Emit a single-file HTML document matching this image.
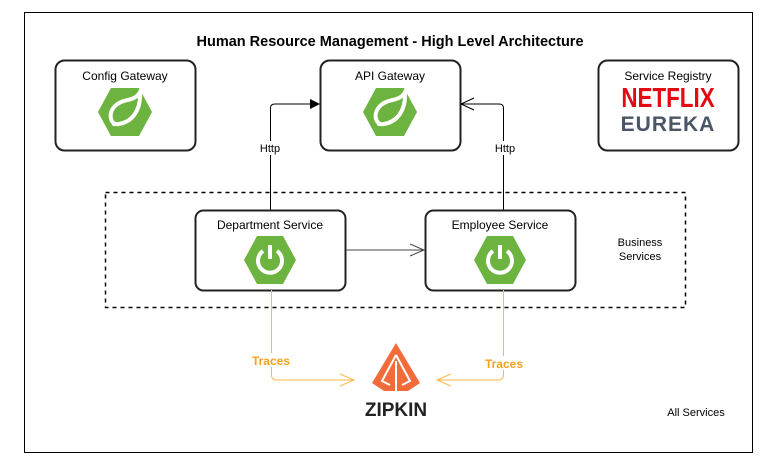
<!DOCTYPE html>
<html><head><meta charset="utf-8"><style>
html,body{margin:0;padding:0;background:#fff;}
svg{display:block;font-family:"Liberation Sans",Arial,sans-serif;}
</style></head><body>
<svg width="773" height="472" viewBox="0 0 773 472" xmlns="http://www.w3.org/2000/svg">
<defs>
<g id="leaf">
<polygon points="-14,-24 14,-24 27,0 14,24 -14,24 -27,0" fill="#6db33f"/>
<path d="M15,-20 C10,-10 -2,-14 -10,-6 C-18,2 -14,14 -6,12 C6,10 16,0 15,-20 Z" fill="none" stroke="#fff" stroke-width="4"/>
<circle cx="-11" cy="12" r="2.2" fill="#fff"/>
</g>
<g id="boot">
<polygon points="-13,-24 13,-24 26,0 13,24 -13,24 -26,0" fill="#6db33f"/>
<path d="M-7,-9 A12,12 0 1 0 7,-9" fill="none" stroke="#fff" stroke-width="4"/>
<line x1="0" y1="-15" x2="0" y2="-1" stroke="#fff" stroke-width="4"/>
</g>
</defs>
<rect x="24.5" y="12.5" width="728" height="440" fill="#fff" stroke="#000" stroke-width="1"/>
<text x="390" y="46" text-anchor="middle" font-size="14.5" font-weight="bold">Human Resource Management - High Level Architecture</text>

<rect x="55.5" y="60.5" width="140" height="90" rx="9" fill="#fff" stroke="#222" stroke-width="2"/>
<text x="125" y="80" text-anchor="middle" font-size="12">Config Gateway</text>
<use href="#leaf" x="125" y="112"/>

<rect x="320.5" y="60.5" width="140" height="90" rx="9" fill="#fff" stroke="#222" stroke-width="2"/>
<text x="390" y="80" text-anchor="middle" font-size="12">API Gateway</text>
<use href="#leaf" x="390" y="112"/>

<rect x="598.5" y="60.5" width="140" height="90" rx="9" fill="#fff" stroke="#222" stroke-width="2"/>
<text x="668" y="80" text-anchor="middle" font-size="12">Service Registry</text>
<text x="668" y="107" text-anchor="middle" font-size="28" font-weight="bold" fill="#e50914" transform="translate(668 0) scale(0.8 1) translate(-668 0)">NETFLIX</text>
<text x="668" y="131" text-anchor="middle" font-size="21" font-weight="bold" fill="#4a5565" letter-spacing="1">EUREKA</text>

<rect x="105.5" y="192.5" width="580" height="115" fill="none" stroke="#000" stroke-width="1.5" stroke-dasharray="4,4"/>
<text x="640" y="246" text-anchor="middle" font-size="11">Business</text>
<text x="640" y="260" text-anchor="middle" font-size="11">Services</text>

<path d="M270.5,210 V108 Q270.5,104 275,104 H312" fill="none" stroke="#000" stroke-width="1"/>
<polygon points="320,104 310,99 310,109" fill="#000"/>
<path d="M503.5,210 V108 Q503.5,104 499,104 H462" fill="none" stroke="#000" stroke-width="1"/>
<path d="M474,98 L461,104 L474,110" fill="none" stroke="#000" stroke-width="1"/>
<rect x="256" y="141" width="30" height="14" fill="#fff"/>
<text x="270" y="152" text-anchor="middle" font-size="11">Http</text>
<rect x="490" y="141" width="30" height="14" fill="#fff"/>
<text x="505" y="152" text-anchor="middle" font-size="11">Http</text>

<rect x="195.5" y="210.5" width="150" height="80" rx="8" fill="#fff" stroke="#222" stroke-width="2"/>
<text x="270" y="229" text-anchor="middle" font-size="12">Department Service</text>
<use href="#boot" x="270" y="260"/>
<rect x="425.5" y="210.5" width="150" height="80" rx="8" fill="#fff" stroke="#222" stroke-width="2"/>
<text x="500" y="229" text-anchor="middle" font-size="12">Employee Service</text>
<use href="#boot" x="500" y="260"/>
<line x1="346" y1="250" x2="424" y2="250" stroke="#444" stroke-width="1"/>
<path d="M410,244 L424,250 L410,256" fill="none" stroke="#444" stroke-width="1"/>

<path d="M271.5,290 V375 Q271.5,380 277,380 H354" fill="none" stroke="#ffb84d" stroke-width="1"/>
<path d="M340,374 L354,380 L340,386" fill="none" stroke="#ffb84d" stroke-width="1"/>
<path d="M503.5,290 V374 Q503.5,380 498,380 H437" fill="none" stroke="#ffb84d" stroke-width="1"/>
<path d="M451,374 L437,380 L451,386" fill="none" stroke="#ffb84d" stroke-width="1"/>
<rect x="250" y="353" width="44" height="14" fill="#fff"/>
<text x="271" y="365" text-anchor="middle" font-size="12" font-weight="bold" fill="#f7a21b">Traces</text>
<rect x="482" y="356" width="44" height="14" fill="#fff"/>
<text x="504" y="368" text-anchor="middle" font-size="12" font-weight="bold" fill="#f7a21b">Traces</text>

<g transform="translate(396 343)">
<polygon points="0,0 24,40 12,48 -12,48 -24,40" fill="#f26b3a"/>
<path d="M0,12 L14,38 L6,42 M0,12 L-14,38 L-6,42" fill="none" stroke="#fff" stroke-width="2"/>
<line x1="0" y1="18" x2="0" y2="50" stroke="#fff" stroke-width="2"/>
</g>
<text x="396" y="416" text-anchor="middle" font-size="19" font-weight="bold" fill="#222">ZIPKIN</text>

<text x="696" y="416" text-anchor="middle" font-size="11">All Services</text>
</svg>
</body></html>
